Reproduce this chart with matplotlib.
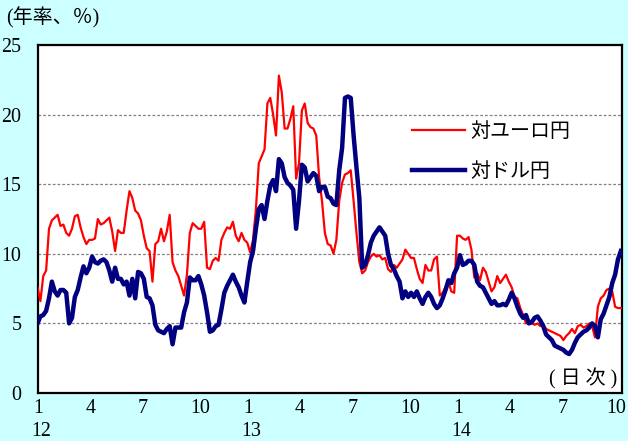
import matplotlib
matplotlib.use("Agg")
import matplotlib.pyplot as plt
import matplotlib.transforms as mtransforms
import pandas as pd

# Daily-implied volatility of the yen, sampled every 5 days (annualised, %)
start_date = "2012-01-01"
step = "5D"

eur_jpy = [
    7.6, 6.6, 8.4, 8.8, 11.8, 12.4, 12.6, 12.8, 12.0, 12.1,
    11.5, 11.3, 11.8, 12.7, 12.8, 11.9, 11.2, 10.7, 11.0, 11.0,
    11.1, 12.5, 12.1, 12.2, 12.4, 12.6, 11.6, 10.2, 11.7, 11.5,
    11.5, 13.1, 14.5, 14.0, 13.1, 12.9, 12.4, 11.3, 10.4, 10.2,
    8.0, 10.7, 10.9, 11.8, 10.9, 11.6, 12.8, 9.4, 8.8, 8.4,
    7.7, 7.0, 8.5, 11.5, 12.2, 12.0, 11.8, 11.8, 12.3, 9.0,
    8.9, 9.5, 9.7, 9.5, 11.0, 11.5, 11.9, 11.8, 12.3, 11.3,
    10.9, 11.5, 11.0, 10.8, 10.1, 11.0, 13.2, 16.5, 17.0, 17.5,
    20.8, 21.2, 20.0, 18.5, 22.8, 21.6, 19.0, 19.0, 19.7, 20.6,
    15.4, 16.5, 20.3, 20.8, 19.4, 19.1, 19.0, 18.5, 15.5, 13.8,
    11.5, 10.7, 10.6, 10.0, 11.0, 13.8, 15.1, 15.7, 15.8, 16.0,
    13.8, 11.5, 9.4, 8.6, 8.8, 9.4, 9.8, 10.0, 9.8, 9.9,
    9.6, 9.7, 8.9, 8.7, 9.2, 9.0, 9.3, 9.6, 10.3, 10.0,
    9.7, 9.7, 8.9, 8.2, 7.9, 9.2, 8.8, 8.8, 9.6, 9.8,
    7.0, 7.2, 7.6, 8.0, 7.3, 7.2, 11.3, 11.3, 11.1, 11.0,
    11.2, 10.3, 8.3, 8.6, 8.1, 9.0, 8.7, 8.0, 7.3, 7.6,
    8.4, 7.9, 8.2, 8.5, 8.0, 7.6, 6.9, 6.8, 6.1, 5.6,
    5.0, 5.1, 5.0, 4.9, 5.0, 4.8, 4.9, 4.6, 4.5, 4.4,
    4.3, 4.2, 4.1, 3.8, 4.1, 4.3, 4.6, 4.3, 4.8, 4.9,
    4.7, 4.8, 5.0, 4.8, 4.0, 6.2, 6.8, 7.0, 7.4, 7.5,
    7.3, 6.2, 6.1, 6.1,
]

usd_jpy = [
    5.0, 5.5, 5.6, 5.9, 6.8, 8.0, 7.3, 7.0, 7.4, 7.4,
    7.2, 5.0, 5.4, 6.9, 7.4, 8.3, 9.1, 8.6, 9.0, 9.8,
    9.4, 9.3, 9.5, 9.6, 9.4, 8.8, 8.0, 9.0, 8.2, 8.2,
    7.8, 8.0, 7.0, 8.2, 6.8, 8.7, 8.6, 8.2, 6.9, 6.8,
    6.3, 4.9, 4.5, 4.4, 4.3, 4.6, 4.8, 3.5, 4.7, 4.7,
    4.7, 5.8, 6.5, 8.3, 8.1, 8.1, 8.4, 7.8, 7.0, 5.8,
    4.4, 4.5, 4.8, 4.9, 6.0, 7.2, 7.7, 8.1, 8.5, 8.0,
    7.6, 7.0, 6.5, 8.0, 9.4, 10.2, 11.8, 13.2, 13.5, 12.5,
    13.8, 14.9, 15.3, 14.5, 16.8, 16.5, 15.5, 15.1, 14.9, 14.6,
    11.8, 13.8, 16.4, 16.2, 15.2, 15.5, 15.8, 15.6, 14.5, 14.8,
    14.8, 14.1, 14.0, 13.6, 13.5, 16.0, 17.6, 21.2, 21.3, 21.2,
    18.5, 16.2, 14.0, 9.0, 9.2, 9.9, 10.8, 11.3, 11.6, 11.9,
    11.6, 11.3, 10.0, 9.2, 8.9, 8.4, 8.0, 6.8, 7.3, 6.9,
    7.2, 6.9, 7.3, 6.8, 6.4, 6.9, 7.2, 6.9, 6.4, 6.1,
    6.3, 6.8, 7.4, 8.1, 7.9, 8.6, 9.0, 9.9, 9.2, 9.3,
    9.5, 9.5, 9.2, 8.0, 7.7, 7.6, 7.2, 6.8, 6.4, 6.6,
    6.3, 6.3, 6.4, 6.3, 6.7, 7.2, 6.8, 6.2, 5.7, 5.4,
    5.6, 5.0, 5.1, 5.4, 5.5, 5.2, 4.8, 4.2, 4.0, 3.8,
    3.4, 3.3, 3.2, 3.1, 2.9, 2.8, 3.1, 3.6, 4.0, 4.2,
    4.4, 4.5, 4.7, 5.0, 4.8, 4.0, 5.3, 5.7, 6.3, 6.9,
    7.9, 8.5, 9.6, 10.2,
]

series_labels = ["対ユーロ円", "対ドル円"]
series_colors = ["#FF0000", "#000080"]

month_ticks = pd.date_range("2012-01-01", "2014-10-01", freq="3MS")
month_labels = [str(d.month) for d in month_ticks]
year_ticks = pd.to_datetime(["2012-01-01", "2013-01-01", "2014-01-01"])
year_labels = ["12", "13", "14"]

y_ticks = [0, 5, 10, 15, 20, 25]

dates = pd.date_range(start_date, periods=len(eur_jpy), freq=step)

serif = ["Liberation Serif", "Noto Sans CJK JP"]
cjk = ["Noto Sans CJK JP", "Liberation Serif"]
fs = 14.4

fig = plt.figure(figsize=(6.28, 4.41), dpi=100, facecolor="#CCFFFF")
ax = fig.add_axes([37.5 / 628, 48 / 441, 584.5 / 628, 348 / 441])
ax.set_facecolor("white")

ax.plot(dates, eur_jpy, color=series_colors[0], lw=1.6, label=series_labels[0],
        solid_joinstyle="round", zorder=3)
ax.plot(dates, usd_jpy, color=series_colors[1], lw=3.2, label=series_labels[1],
        solid_joinstyle="round", zorder=4)

ax.set_xlim(pd.Timestamp("2012-01-01"), pd.Timestamp("2014-10-14"))
ax.set_ylim(0, 25)

# horizontal dotted grid
for yv in y_ticks[1:-1]:
    ax.axhline(yv, color="#808080", lw=0.9, ls=(0, (2.2, 1.6)), zorder=1)

for s in ax.spines.values():
    s.set_color("black")
    s.set_linewidth(1.6)

ax.set_yticks(y_ticks)
ax.set_yticklabels([str(v) for v in y_ticks], fontfamily=serif, fontsize=fs)
ax.tick_params(axis="y", length=0, pad=11.5)

ax.set_xticks(month_ticks)
ax.set_xticklabels(month_labels, fontfamily=serif, fontsize=fs, ha="left")
ax.tick_params(axis="x", length=0, pad=4.5)
xlabels = ax.get_xticklabels()
for k, lab in enumerate(xlabels):
    dx = -4.5 if k < len(xlabels) - 1 else -8.5
    lab.set_transform(lab.get_transform()
                      + mtransforms.ScaledTranslation(dx / 100, 0, fig.dpi_scale_trans))

ytrans = mtransforms.blended_transform_factory(ax.transData, ax.transAxes)
yshift = mtransforms.ScaledTranslation(3.5 / 100, 0, fig.dpi_scale_trans)
for d, lab in zip(year_ticks, year_labels):
    ax.text(d, -0.112, lab, transform=ytrans + yshift, ha="center", va="center",
            fontfamily=serif, fontsize=fs)

fig.text(6 / 628, 1 - 18 / 441, "(年率、％)", ha="left", va="center",
         fontfamily=serif, fontsize=fs)
ax.text(0.992, 0.04, "( 日 次 )", transform=ax.transAxes, ha="right", va="center",
        fontfamily=serif, fontsize=fs)

leg = ax.legend(loc="upper left", bbox_to_anchor=(0.64, 0.782), frameon=False,
                handlelength=2.65, handletextpad=0.3, labelspacing=0.95,
                borderpad=0, borderaxespad=0,
                prop={"family": cjk, "size": fs})

fig.savefig("out.png", dpi=100, facecolor=fig.get_facecolor())
